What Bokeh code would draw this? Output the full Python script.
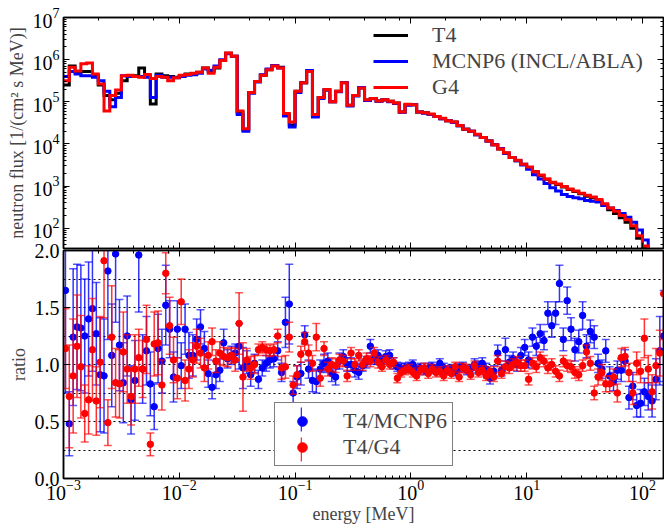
import numpy as np
from bokeh.plotting import figure
from bokeh.models import (Range1d, LogAxis, LinearAxis, SingleIntervalTicker,
                          FixedTicker, Legend, LegendItem, PrintfTickFormatter,
                          CustomJSTickFormatter)
from bokeh.layouts import column
from bokeh.embed import file_html
from bokeh.resources import INLINE

FONT = "'Liberation Serif', 'Times New Roman', serif"
BLUE = "#0000ff"
RED = "#ff0000"

# ---------------- data ----------------
# flux histograms: 20 bins per decade from 1e-3 MeV, values as log10(flux)
flux_log_edges = np.round(np.arange(105) * 0.05 - 3.0, 3)

t4_log = [5.40, 5.85, 5.70, 5.72, 5.72, 5.63, 5.40, 5.15, 5.05, 5.20,
          5.50, 5.62, 5.62, 5.80, 5.62, 4.95, 5.66, 5.62, 5.60, 5.58,
          5.62, 5.66, 5.66, 5.70, 5.80, 5.72, 5.80, 5.98, 6.15, 6.08,
          4.75, 4.33, 5.22, 5.48, 5.63, 5.76, 5.86, 5.82, 4.70, 4.45,
          5.25, 5.45, 5.72, 4.66, 5.10, 5.28, 5.00, 5.25, 5.45, 4.92,
          5.15, 5.33, 5.04, 5.08, 5.02, 5.05, 5.01, 4.97, 4.76, 4.93,
          4.93, 4.76, 4.74, 4.70, 4.65, 4.60, 4.55, 4.52, 4.43, 4.35,
          4.30, 4.22, 4.15, 4.07, 3.98, 3.88, 3.78, 3.68, 3.60, 3.52,
          3.44, 3.34, 3.25, 3.16, 3.08, 3.04, 2.98, 2.92, 2.87, 2.82,
          2.76, 2.72, 2.66, 2.55, 2.44, 2.35, 2.25, 2.14, 2.00, 1.76,
          1.52, 1.30, 1.10, 1.00]

mcnp_log = [5.60, 5.72, 5.66, 5.62, 5.62, 5.58, 5.50, 5.25, 4.88, 5.10,
            5.62, 5.60, 5.60, 5.60, 5.58, 5.10, 5.63, 5.58, 5.58, 5.57,
            5.60, 5.63, 5.64, 5.68, 5.78, 5.75, 5.85, 6.00, 6.14, 6.08,
            4.70, 4.30, 5.20, 5.47, 5.64, 5.78, 5.86, 5.80, 4.66, 4.40,
            5.22, 5.45, 5.74, 4.64, 5.08, 5.28, 5.00, 5.24, 5.46, 4.90,
            5.14, 5.34, 5.03, 5.07, 5.01, 5.04, 5.00, 4.96, 4.75, 4.92,
            4.93, 4.76, 4.73, 4.70, 4.65, 4.60, 4.55, 4.51, 4.43, 4.35,
            4.30, 4.22, 4.15, 4.07, 3.98, 3.89, 3.78, 3.68, 3.60, 3.50,
            3.40, 3.27, 3.17, 3.06, 2.96, 2.88, 2.80, 2.75, 2.72, 2.70,
            2.66, 2.64, 2.62, 2.54, 2.48, 2.42, 2.35, 2.26, 2.14, 1.96,
            1.72, 1.40, 1.15, 1.00]

g4_log = [5.50, 5.82, 5.73, 5.90, 5.92, 5.66, 5.42, 4.78, 5.15, 5.28,
          5.62, 5.63, 5.60, 5.58, 5.65, 5.55, 5.60, 5.58, 5.50, 5.57,
          5.63, 5.65, 5.68, 5.70, 5.80, 5.68, 5.82, 5.98, 6.16, 6.08,
          4.78, 4.36, 5.22, 5.48, 5.63, 5.76, 5.85, 5.80, 4.72, 4.52,
          5.25, 5.45, 5.72, 4.70, 5.10, 5.29, 5.00, 5.25, 5.45, 4.92,
          5.15, 5.33, 5.05, 5.08, 5.02, 5.05, 5.01, 4.97, 4.76, 4.94,
          4.93, 4.76, 4.74, 4.71, 4.65, 4.61, 4.55, 4.52, 4.44, 4.35,
          4.30, 4.23, 4.15, 4.07, 3.98, 3.88, 3.79, 3.68, 3.61, 3.52,
          3.45, 3.34, 3.26, 3.17, 3.09, 3.05, 2.99, 2.93, 2.88, 2.83,
          2.78, 2.74, 2.68, 2.58, 2.48, 2.40, 2.30, 2.20, 2.06, 1.82,
          1.58, 1.32, 1.12, 1.00]

# ratios: 30 points per decade from 1e-3 MeV (bin centres)
ratio_log_x = np.round(-3.0 + (np.arange(156) + 0.5) / 30.0, 4)

ratio_mcnp = [1.65, 0.48, 1.24, 1.33, 1.32, 1.25, 1.40, 1.49, 1.27, 0.91,
              0.90, 1.82, 1.08, 1.97, 1.17, 0.84, 1.25, 0.69, 0.86, 1.96,
              0.96, 1.12, 0.83, 0.63, 1.14, 1.03, 1.52, 1.31, 0.89, 1.31,
              0.99, 1.31, 1.08, 1.08, 1.22, 1.33, 1.14, 0.92,
              0.80, 0.91, 0.95, 1.19, 1.05, 1.08, 1.10, 1.16, 0.97, 1.02,
              0.91, 1.01, 0.87, 0.97, 1.01, 1.04, 1.05, 1.12, 0.93, 1.37,
              1.53, 0.75, 0.89, 0.92, 1.26, 0.96, 0.86, 0.85, 0.96, 1.01,
              1.03, 0.92, 0.89, 1.03, 1.07, 1.00, 1.00, 0.95, 0.93, 0.99,
              1.02, 1.16, 1.05, 1.08, 1.03, 1.07, 1.08, 1.01, 0.98, 0.97,
              0.97, 0.98, 1.00, 0.96, 0.97, 0.95, 0.97, 0.98, 0.96, 1.01,
              0.97, 0.95, 0.96, 0.94, 0.97, 0.98, 0.95, 0.96, 1.00, 0.98,
              1.01, 0.96, 0.88, 0.94, 1.10, 0.95, 1.13, 1.02, 1.05, 1.00,
              1.08,
              1.15, 1.04, 1.24, 1.16, 1.27, 1.21, 1.45, 1.34, 1.45, 1.71,
              1.22, 1.56, 1.31, 1.13, 1.20, 1.43, 1.16, 1.29, 1.24, 1.01,
              0.96, 1.12, 0.90, 0.85, 0.95, 0.95, 1.03, 0.71, 0.81, 0.64,
              0.66, 0.76, 0.72, 0.68, 0.87, 1.12, 1.25]

err_mcnp = [0.90, 0.28, 0.60, 0.55, 0.55, 0.50, 0.50, 0.55, 0.45, 0.50,
            0.50, 0.60, 0.45, 0.60, 0.40, 0.35, 0.35, 0.30, 0.35, 0.50,
            0.30, 0.30, 0.28, 0.20, 0.30, 0.28, 0.35, 0.25, 0.22, 0.25,
            0.20, 0.22, 0.20, 0.18, 0.18, 0.15, 0.15, 0.12,
            0.10, 0.12, 0.10, 0.12, 0.08, 0.08, 0.08, 0.20, 0.18, 0.10,
            0.10, 0.08, 0.08, 0.07, 0.07, 0.07, 0.07, 0.08, 0.08, 0.22,
            0.35, 0.10, 0.10, 0.10, 0.08, 0.08, 0.10, 0.10, 0.08, 0.08,
            0.07, 0.07, 0.07, 0.07, 0.06, 0.06, 0.06, 0.06, 0.06, 0.05,
            0.05, 0.06, 0.05, 0.05, 0.05, 0.05, 0.05, 0.05, 0.04, 0.04,
            0.04, 0.04, 0.04, 0.04, 0.04, 0.04, 0.04, 0.04, 0.04, 0.04,
            0.04, 0.04, 0.04, 0.04, 0.04, 0.04, 0.04, 0.04, 0.05, 0.05,
            0.05, 0.05, 0.05, 0.05, 0.07, 0.05, 0.10, 0.06, 0.06, 0.06,
            0.07,
            0.07, 0.07, 0.08, 0.08, 0.08, 0.08, 0.10, 0.10, 0.10, 0.16,
            0.10, 0.12, 0.10, 0.10, 0.10, 0.12, 0.10, 0.10, 0.10, 0.08,
            0.08, 0.10, 0.08, 0.08, 0.08, 0.10, 0.10, 0.10, 0.12, 0.10,
            0.12, 0.12, 0.12, 0.14, 0.18, 0.30, 0.40]

ratio_g4 = [1.14, 0.72, 0.90, 1.16, 0.98, 0.57, 0.69, 1.13, 0.68, 1.02,
            1.91, 0.49, 1.24, 0.84, 0.83, 1.11, 0.96, 0.72, 0.96, 1.06,
            0.96, 1.22, 0.30, 1.18, 1.19, 0.82, 1.80, 1.34, 1.04, 0.88,
            1.55, 0.86, 0.96, 1.04, 1.16, 1.10, 0.97, 1.08,
            1.20, 1.03, 1.10, 1.07, 1.06, 1.08, 1.04, 1.36, 0.89, 1.04,
            0.97, 1.00, 1.13, 1.15, 1.13, 1.12, 1.13, 1.25, 0.97, 0.98,
            1.24, 0.82, 0.91, 1.09, 1.20, 1.10, 1.01, 1.24, 0.88, 1.14,
            0.96, 1.00, 0.99, 1.04, 1.03, 0.90, 1.10, 1.00, 1.08, 1.00,
            1.05, 1.03, 1.10, 1.02, 0.98, 1.04, 1.00, 1.02, 0.88, 0.93,
            0.95, 0.96, 0.93, 0.90, 0.95, 0.97, 0.92, 0.96, 0.93, 0.94,
            0.90, 0.95, 0.92, 0.98, 0.89, 0.97, 0.96, 0.91, 0.99, 0.93,
            0.95, 0.90, 0.94, 0.89, 1.03, 0.92, 0.98, 0.97, 1.00, 1.02,
            0.99,
            0.99, 0.87, 1.01, 0.98, 1.06, 1.03, 0.97, 1.00, 0.94, 0.90,
            1.03, 0.99, 0.98, 0.93, 0.91, 0.99, 1.11, 1.01, 0.75, 0.89,
            0.93, 0.83, 0.83, 0.89, 0.75, 1.06, 1.07, 0.93, 0.75, 1.01,
            0.94, 1.23, 0.96, 0.76, 0.99, 1.10, 1.62]

err_g4 = [0.35, 0.45, 0.50, 0.45, 0.45, 0.25, 0.30, 0.45, 0.30, 0.40,
          0.50, 0.20, 0.45, 0.30, 0.30, 0.35, 0.30, 0.25, 0.30, 0.25,
          0.25, 0.30, 0.10, 0.28, 0.28, 0.22, 0.18, 0.25, 0.20, 0.18,
          0.20, 0.18, 0.17, 0.15, 0.15, 0.13, 0.12, 0.12,
          0.12, 0.10, 0.10, 0.08, 0.08, 0.07, 0.10, 0.27, 0.30, 0.10,
          0.10, 0.08, 0.05, 0.05, 0.05, 0.05, 0.05, 0.06, 0.10, 0.10,
          0.13, 0.08, 0.08, 0.07, 0.08, 0.07, 0.07, 0.12, 0.07, 0.06,
          0.06, 0.06, 0.06, 0.05, 0.05, 0.05, 0.05, 0.05, 0.05, 0.05,
          0.05, 0.05, 0.05, 0.05, 0.04, 0.04, 0.04, 0.04, 0.04, 0.04,
          0.04, 0.04, 0.04, 0.04, 0.04, 0.04, 0.04, 0.04, 0.04, 0.04,
          0.04, 0.04, 0.04, 0.04, 0.04, 0.04, 0.04, 0.04, 0.04, 0.04,
          0.04, 0.04, 0.04, 0.04, 0.05, 0.04, 0.05, 0.05, 0.05, 0.05,
          0.05,
          0.05, 0.05, 0.05, 0.05, 0.05, 0.05, 0.05, 0.05, 0.05, 0.05,
          0.05, 0.05, 0.05, 0.05, 0.05, 0.05, 0.06, 0.06, 0.06, 0.07,
          0.07, 0.07, 0.07, 0.07, 0.08, 0.08, 0.08, 0.08, 0.10, 0.10,
          0.10, 0.17, 0.12, 0.15, 0.15, 0.20, 0.40]

x_min, x_max = 1e-3, 152.0
flux_ymin, flux_ymax = 33.0, 1e7
ratio_ymin, ratio_ymax = 0.0, 2.0
ratio_grid = [0.25, 0.5, 0.75, 1.0, 1.25, 1.5, 1.75]

legend_top = ["T4", "MCNP6 (INCL/ABLA)", "G4"]
legend_bottom = ["T4/MCNP6", "T4/G4"]

# ---------------- helpers ----------------
edges = 10.0 ** flux_log_edges
rx = 10.0 ** ratio_log_x


def style_axis(ax, labels=True):
    ax.major_tick_in = 6
    ax.major_tick_out = 0
    ax.minor_tick_in = 3
    ax.minor_tick_out = 0
    ax.axis_line_color = "black"
    ax.axis_line_width = 1.5
    ax.major_tick_line_width = 1
    ax.minor_tick_line_width = 1
    ax.major_label_text_font = FONT
    ax.major_label_text_font_size = "20px"
    ax.major_label_text_color = "black"
    ax.major_label_standoff = 4
    ax.axis_label_text_font = FONT
    ax.axis_label_text_font_size = "18px"
    ax.axis_label_text_font_style = "normal"
    ax.axis_label_standoff = 3
    if not labels:
        ax.formatter = CustomJSTickFormatter(code="return ''")
        ax.major_label_text_font_size = "0px"
        ax.major_label_standoff = 0
        ax.axis_label_standoff = 0


xr = Range1d(x_min, x_max)

# ---------------- top panel ----------------
p1 = figure(width=664, height=250, x_axis_type="log", y_axis_type="log",
            x_range=xr, y_range=Range1d(flux_ymin, flux_ymax),
            output_backend="svg", toolbar_location=None,
            min_border_left=63, min_border_right=1, min_border_top=17,
            min_border_bottom=2)
p1.grid.visible = False
p1.outline_line_color = "black"
p1.outline_line_width = 1.5

style_axis(p1.left[0])
p1.left[0].axis_label = "neutron flux [1/(cm\u00b2 s MeV)]"
style_axis(p1.below[0], labels=False)
ax_r = LogAxis()
style_axis(ax_r, labels=False)
p1.add_layout(ax_r, "right")
ax_t = LogAxis()
style_axis(ax_t, labels=False)
p1.add_layout(ax_t, "above")

r_t4 = p1.step(edges, 10.0 ** np.append(t4_log, t4_log[-1]), mode="after",
               line_color="black", line_width=3, line_join="miter")
r_mc = p1.step(edges, 10.0 ** np.append(mcnp_log, mcnp_log[-1]), mode="after",
               line_color=BLUE, line_width=3, line_join="miter")
r_g4 = p1.step(edges, 10.0 ** np.append(g4_log, g4_log[-1]), mode="after",
               line_color=RED, line_width=3, line_join="miter")

leg1 = Legend(items=[LegendItem(label=legend_top[0], renderers=[r_t4]),
                     LegendItem(label=legend_top[1], renderers=[r_mc]),
                     LegendItem(label=legend_top[2], renderers=[r_g4])],
              location=(310, 148), border_line_color=None,
              background_fill_alpha=0, label_text_font=FONT,
              label_text_font_size="22px", glyph_width=35, glyph_height=24,
              label_height=24, spacing=-2, padding=5, label_standoff=24,
              margin=0)
p1.add_layout(leg1)

# ---------------- bottom panel ----------------
p2 = figure(width=664, height=286, x_axis_type="log",
            x_range=xr, y_range=Range1d(ratio_ymin, ratio_ymax),
            output_backend="svg", toolbar_location=None,
            min_border_left=63, min_border_right=1, min_border_top=10,
            min_border_bottom=44)
p2.margin = (-10, 0, 0, 0)
p2.border_fill_alpha = 0
p2.outline_line_color = "black"
p2.outline_line_width = 1.5
p2.xgrid.visible = False
p2.ygrid.ticker = FixedTicker(ticks=ratio_grid)
p2.ygrid.grid_line_color = "black"
p2.ygrid.grid_line_dash = "2 3"
p2.ygrid.grid_line_width = 1.2

style_axis(p2.left[0])
p2.left[0].axis_label = "ratio"
p2.left[0].ticker = SingleIntervalTicker(interval=0.5, num_minor_ticks=0)
p2.left[0].formatter = PrintfTickFormatter(format="%.1f")
style_axis(p2.below[0])
p2.below[0].axis_label = "energy [MeV]"
p2.below[0].major_label_standoff = 1
p2.below[0].axis_label_standoff = 1
ax_r2 = LinearAxis(ticker=SingleIntervalTicker(interval=0.5, num_minor_ticks=0))
style_axis(ax_r2, labels=False)
p2.add_layout(ax_r2, "right")
ax_t2 = LogAxis()
style_axis(ax_t2, labels=False)
p2.add_layout(ax_t2, "above")


def errorbars(y, err, color):
    y = np.array(y)
    e = np.array(err)
    bars = p2.rect(x=rx, y=y, width=1.5, height=2 * e, width_units="screen",
                   height_units="data", fill_color=color, fill_alpha=0.8,
                   line_color=None)
    p2.scatter(rx, y + e, marker="dash", size=8, line_color=color,
               line_width=1.5, line_alpha=0.65)
    p2.scatter(rx, y - e, marker="dash", size=8, line_color=color,
               line_width=1.5, line_alpha=0.65)
    dots = p2.scatter(rx, y, marker="circle", size=6.5, fill_color=color,
                      line_color=color)
    return bars, dots


b_mc, s_mc = errorbars(ratio_mcnp, err_mcnp, BLUE)
b_g4, s_g4 = errorbars(ratio_g4, err_g4, RED)

leg2 = Legend(items=[LegendItem(label=legend_bottom[0], renderers=[s_mc]),
                     LegendItem(label=legend_bottom[1], renderers=[s_g4])],
              location=(211, 12), border_line_color="black",
              border_line_width=1.2, background_fill_color="white",
              background_fill_alpha=1, label_text_font=FONT,
              label_text_font_size="22px", glyph_width=44, glyph_height=24,
              label_height=24, spacing=-3, padding=5, label_standoff=19,
              margin=0)
p2.add_layout(leg2)

# vertical error-bar glyphs inside the legend box
leg3 = Legend(items=[LegendItem(label=" ", renderers=[b_mc]),
                     LegendItem(label=" ", renderers=[b_g4])],
              location=(237, 14), border_line_color=None,
              background_fill_alpha=0, label_text_font_size="1px",
              glyph_width=2, glyph_height=30, label_height=30, label_width=1,
              spacing=-9, padding=0, label_standoff=0, margin=0)
p2.add_layout(leg3)

layout = column(p1, p2)
open("out.html", "w").write(file_html(layout, INLINE))
